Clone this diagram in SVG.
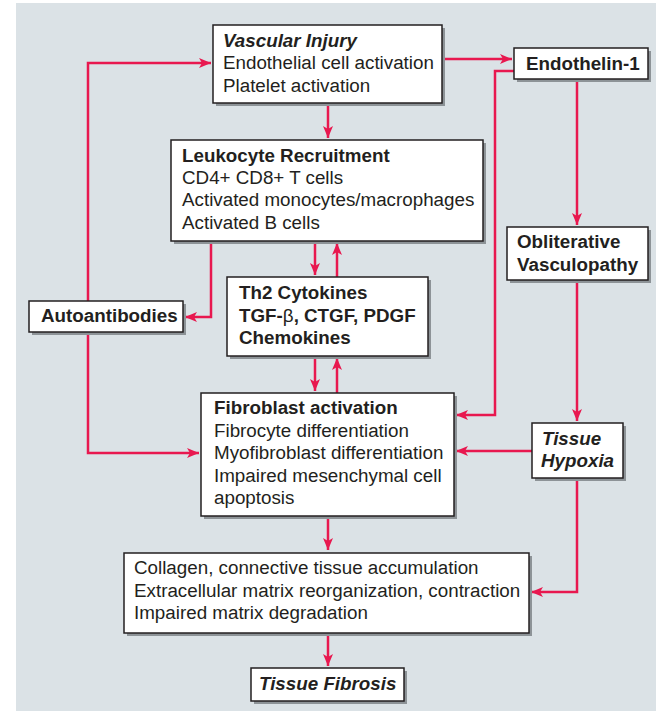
<svg xmlns="http://www.w3.org/2000/svg" width="656" height="711" viewBox="0 0 656 711">
<style>
.bg{fill:#dbe2e6}
.sh{fill:#8d9397}
.box{fill:#ffffff;stroke:#231f20;stroke-width:1.5}
.t{font-family:"Liberation Sans",Arial,Helvetica,sans-serif;font-size:18.8px;fill:#231f20}
.b{font-weight:bold}
.bi{font-weight:bold;font-style:italic}
.c{fill:none;stroke:#e8184f;stroke-width:2.5;marker-end:url(#ah)}
</style>
<defs>
<marker id="ah" markerUnits="userSpaceOnUse" markerWidth="14" markerHeight="12" refX="12" refY="5" orient="auto">
<path d="M0,0 L12,5 L0,10 L3,5 Z" fill="#e8184f"/>
</marker>
</defs>
<rect class="bg" x="16" y="3" width="640" height="708"/>

<g id="connectors">
<path class="c" d="M88,301 V63 H211"/>
<path class="c" d="M442,59 H512"/>
<path class="c" d="M328,103 V138"/>
<path class="c" d="M514,71 H495 V415 H456"/>
<path class="c" d="M577,79 V225"/>
<path class="c" d="M577,280 V421"/>
<path class="c" d="M532,451 H456"/>
<path class="c" d="M577,478 V592 H531"/>
<path class="c" d="M211,241 V317 H185"/>
<path class="c" d="M315,241 V275"/>
<path class="c" d="M337,277 V243"/>
<path class="c" d="M315,356 V391"/>
<path class="c" d="M337,393 V358"/>
<path class="c" d="M88,332 V453 H199"/>
<path class="c" d="M328,516 V550"/>
<path class="c" d="M328,632 V666"/>
</g>

<g id="vascular-injury">
<rect class="sh" x="216" y="28" width="229" height="78"/>
<rect class="box" x="213" y="25" width="229" height="78"/>
<text class="t bi" x="223" y="47">Vascular Injury</text>
<text class="t" x="223" y="69">Endothelial cell activation</text>
<text class="t" x="223" y="92">Platelet activation</text>
</g>

<g id="endothelin-1">
<rect class="sh" x="517" y="51" width="134" height="31"/>
<rect class="box" x="514" y="48" width="134" height="31"/>
<text class="t b" x="526" y="70">Endothelin-1</text>
</g>

<g id="leukocyte-recruitment">
<rect class="sh" x="174" y="143" width="312" height="101"/>
<rect class="box" x="171" y="140" width="312" height="101"/>
<text class="t b" x="182" y="162">Leukocyte Recruitment</text>
<text class="t" x="182" y="184">CD4+ CD8+ T cells</text>
<text class="t" x="182" y="206">Activated monocytes/macrophages</text>
<text class="t" x="182" y="229">Activated B cells</text>
</g>

<g id="obliterative-vasculopathy">
<rect class="sh" x="510" y="230" width="141" height="53"/>
<rect class="box" x="507" y="227" width="141" height="53"/>
<text class="t b" x="517" y="248">Obliterative</text>
<text class="t b" x="517" y="271">Vasculopathy</text>
</g>

<g id="autoantibodies">
<rect class="sh" x="32" y="304" width="154" height="31"/>
<rect class="box" x="29" y="301" width="154" height="31"/>
<text class="t b" x="41" y="322">Autoantibodies</text>
</g>

<g id="th2-cytokines">
<rect class="sh" x="230" y="280" width="201" height="79"/>
<rect class="box" x="227" y="277" width="201" height="79"/>
<text class="t b" x="239" y="299">Th2 Cytokines</text>
<text class="t b" x="239" y="322">TGF-<tspan font-weight="normal">β</tspan>, CTGF, PDGF</text>
<text class="t b" x="239" y="344">Chemokines</text>
</g>

<g id="fibroblast-activation">
<rect class="sh" x="204" y="396" width="253" height="123"/>
<rect class="box" x="201" y="393" width="253" height="123"/>
<text class="t b" x="214" y="414">Fibroblast activation</text>
<text class="t" x="214" y="437">Fibrocyte differentiation</text>
<text class="t" x="214" y="459">Myofibroblast differentiation</text>
<text class="t" x="214" y="482">Impaired mesenchymal cell</text>
<text class="t" x="214" y="504">apoptosis</text>
</g>

<g id="tissue-hypoxia">
<rect class="sh" x="535" y="426" width="91" height="55"/>
<rect class="box" x="532" y="423" width="91" height="55"/>
<text class="t bi" x="542" y="445">Tissue</text>
<text class="t bi" x="541" y="467">Hypoxia</text>
</g>

<g id="matrix">
<rect class="sh" x="127" y="556" width="405" height="80"/>
<rect class="box" x="124" y="553" width="405" height="80"/>
<text class="t" x="134" y="574">Collagen, connective tissue accumulation</text>
<text class="t" x="134" y="597">Extracellular matrix reorganization, contraction</text>
<text class="t" x="134" y="619">Impaired matrix degradation</text>
</g>

<g id="tissue-fibrosis">
<rect class="sh" x="254" y="671" width="153" height="33"/>
<rect class="box" x="251" y="668" width="153" height="33"/>
<text class="t bi" x="259" y="690">Tissue Fibrosis</text>
</g>
</svg>
